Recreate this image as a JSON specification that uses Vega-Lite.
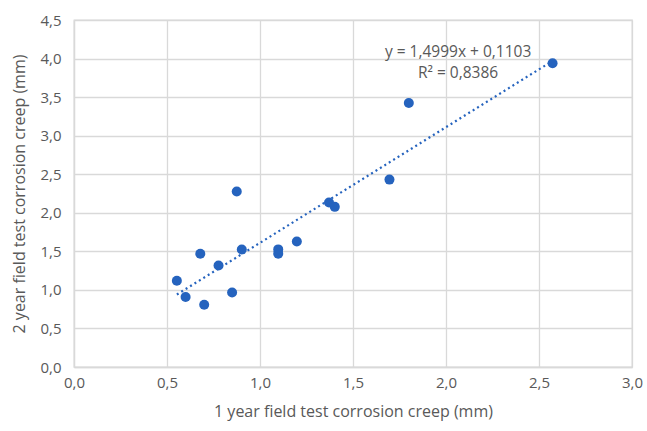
{
  "$schema": "https://vega.github.io/schema/vega-lite/v6.json",
  "autosize": "none",
  "width": 558,
  "height": 347,
  "padding": {"left": 74, "top": 20, "right": 15, "bottom": 64},
  "background": "white",
  "datasets": {
    "pts": [
      {"x": 0.553, "y": 1.118},
      {"x": 0.600, "y": 0.907},
      {"x": 0.679, "y": 1.468},
      {"x": 0.700, "y": 0.807},
      {"x": 0.777, "y": 1.317},
      {"x": 0.850, "y": 0.967},
      {"x": 0.875, "y": 2.276},
      {"x": 0.902, "y": 1.524},
      {"x": 1.098, "y": 1.525},
      {"x": 1.098, "y": 1.470},
      {"x": 1.198, "y": 1.628},
      {"x": 1.371, "y": 2.133},
      {"x": 1.402, "y": 2.077},
      {"x": 1.696, "y": 2.430},
      {"x": 1.800, "y": 3.424},
      {"x": 2.573, "y": 3.940}
    ],
    "trend": [
      {"x": 0.553, "y": 0.9397},
      {"x": 2.573, "y": 3.9696}
    ],
    "labels": [
      {"x": 2.065, "y": 4.09, "t": "y = 1,4999x + 0,1103"},
      {"x": 2.065, "y": 3.81, "t": "R² = 0,8386"}
    ]
  },
  "encoding": {
    "x": {
      "field": "x", "type": "quantitative",
      "scale": {"domain": [0, 3], "nice": false, "zero": true},
      "axis": {
        "title": "1 year field test corrosion creep (mm)",
        "values": [0, 0.5, 1, 1.5, 2, 2.5, 3],
        "labelExpr": "replace(format(datum.value, '.1f'), '.', ',')",
        "labelOverlap": false, "labelFlush": false,
        "grid": true, "gridColor": "#d9d9d9", "gridWidth": 1.3,
        "domain": true, "domainColor": "#d9d9d9", "domainWidth": 1.3,
        "ticks": false, "labelPadding": 8, "titlePadding": 13,
        "labelFont": "Open Sans", "labelFontSize": 15, "labelColor": "#595959",
        "titleFont": "Open Sans", "titleFontSize": 16, "titleColor": "#595959", "titleFontWeight": "normal"
      }
    },
    "y": {
      "field": "y", "type": "quantitative",
      "scale": {"domain": [0, 4.5], "nice": false, "zero": true},
      "axis": {
        "title": "2 year field test corrosion creep (mm)",
        "values": [0, 0.5, 1, 1.5, 2, 2.5, 3, 3.5, 4, 4.5],
        "tickCount": 10,
        "labelExpr": "replace(format(datum.value, '.1f'), '.', ',')",
        "labelOverlap": false, "labelFlush": false,
        "grid": true, "gridColor": "#d9d9d9", "gridWidth": 1.3,
        "domain": true, "domainColor": "#d9d9d9", "domainWidth": 1.3,
        "ticks": false, "labelPadding": 13, "titlePadding": 12,
        "labelFont": "Open Sans", "labelFontSize": 15, "labelColor": "#595959",
        "titleFont": "Open Sans", "titleFontSize": 16, "titleColor": "#595959", "titleFontWeight": "normal"
      }
    }
  },
  "layer": [
    {
      "data": {"name": "trend"},
      "mark": {"type": "line", "color": "#2563be", "strokeWidth": 2.2, "strokeDash": [2, 3.2], "strokeCap": "butt"}
    },
    {
      "data": {"name": "pts"},
      "mark": {"type": "circle", "color": "#2563be", "opacity": 1, "size": 100}
    },
    {
      "data": {"name": "labels"},
      "mark": {"type": "text", "font": "Open Sans", "fontSize": 15.5, "color": "#595959", "align": "center", "baseline": "middle"},
      "encoding": {
        "text": {"field": "t"}
      }
    }
  ],
  "config": {"view": {"stroke": "#d9d9d9", "strokeWidth": 1.3}}
}
